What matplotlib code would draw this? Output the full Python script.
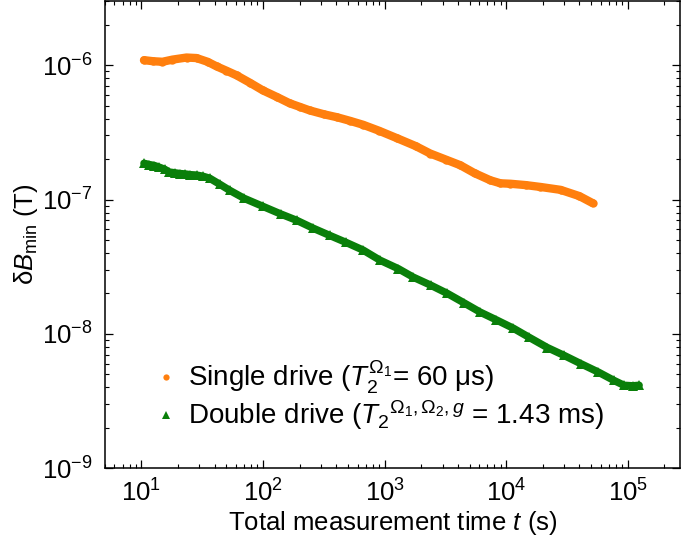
import matplotlib
matplotlib.use("Agg")
import matplotlib.pyplot as plt
from matplotlib.ticker import NullFormatter

plt.rcParams['font.family'] = ['Liberation Sans', 'DejaVu Sans']
plt.rcParams['mathtext.fontset'] = 'custom'
plt.rcParams['mathtext.rm'] = 'Liberation Sans'
plt.rcParams['mathtext.it'] = 'Liberation Sans:italic'
plt.rcParams['mathtext.bf'] = 'Liberation Sans:bold'

# Single drive (orange)
t_single = [10.5, 12.5, 14.9, 18.0, 23.5, 28.4, 35.0, 41.5, 50.0, 60.7, 78.0, 99.5,
            130, 166, 200, 243, 320, 405, 520, 666, 900, 1265, 1800, 2371,
            3200, 4195, 5500, 7413, 8970, 10850, 14500, 19150, 28000, 40000, 51400]
b_single = [1.09e-6, 1.07e-6, 1.06e-6, 1.10e-6, 1.14e-6, 1.13e-6, 1.06e-6, 9.8e-7, 9.1e-7,
            8.4e-7, 7.4e-7, 6.5e-7, 5.8e-7, 5.2e-7, 4.9e-7, 4.6e-7, 4.3e-7, 4.1e-7,
            3.85e-7, 3.6e-7, 3.25e-7, 2.86e-7, 2.5e-7, 2.2e-7, 1.98e-7, 1.80e-7,
            1.57e-7, 1.39e-7, 1.32e-7, 1.31e-7, 1.28e-7, 1.24e-7, 1.18e-7, 1.06e-7, 9.4e-8]

# Double drive (green)
t_double = [10.5, 11.6, 12.8, 14.0, 15.5, 17.0, 18.8, 20.7, 22.8, 25.2, 28.4, 32.0,
            36.4, 44.0, 53.2, 70.0, 99.5, 140, 189, 260, 354, 480, 666, 918,
            1300, 1722, 2400, 3275, 4500, 6120, 8300, 11460, 15500, 21800, 30000,
            41000, 57000, 76900, 93000, 110000, 124000]
b_double = [1.86e-7, 1.82e-7, 1.79e-7, 1.74e-7, 1.68e-7, 1.60e-7, 1.58e-7, 1.56e-7,
            1.55e-7, 1.53e-7, 1.52e-7, 1.49e-7, 1.44e-7, 1.30e-7, 1.17e-7, 1.02e-7,
            8.9e-8, 7.8e-8, 7.0e-8, 6.1e-8, 5.4e-8, 4.8e-8, 4.2e-8, 3.53e-8, 3.05e-8,
            2.64e-8, 2.3e-8, 2.0e-8, 1.7e-8, 1.45e-8, 1.27e-8, 1.10e-8, 9.4e-9, 7.9e-9,
            6.9e-9, 6.0e-9, 5.2e-9, 4.5e-9, 4.14e-9, 4.1e-9, 4.14e-9]

label_single = "Single drive ($T_2^{\\Omega_1}$= 60 μs)"
label_double = "Double drive (${T_2}^{\\Omega_1,\\Omega_2,g}$ = 1.43 ms)"

orange = '#ff7f0e'
green = '#0a7f0a'

fig = plt.figure(figsize=(6.85, 5.45), dpi=100)
ax = fig.add_axes([0.153, 0.141, 0.840, 0.857])

ax.plot(t_single, b_single, '-', color=orange, lw=6.0, solid_capstyle='round',
        solid_joinstyle='round', zorder=2)
ax.plot(t_single, b_single, 'o', color=orange, ms=6.0, mew=0, zorder=3, label=label_single)
ax.plot(t_double, b_double, '-', color=green, lw=5.4, solid_capstyle='round',
        solid_joinstyle='round', zorder=2)
ax.plot(t_double, b_double, '^', color=green, ms=6.8, mew=0, zorder=3, label=label_double)

ax.set_xscale('log')
ax.set_yscale('log')
ax.set_xlim(5.0, 2.7e5)
ax.set_ylim(1e-9, 3e-6)
ax.xaxis.set_minor_formatter(NullFormatter())
ax.yaxis.set_minor_formatter(NullFormatter())

ax.tick_params(which='both', direction='in', top=True, right=True, labelsize=18.5)
ax.tick_params(which='major', length=6, width=0.9)
ax.tick_params(axis='x', which='major', pad=8)
ax.tick_params(axis='y', which='major', pad=9)
ax.tick_params(which='minor', length=3, width=0.8)
for s in ax.spines.values():
    s.set_linewidth(1.1)

ax.set_xlabel("Total measurement time $t$ (s)", fontsize=18.5, labelpad=2)
ax.set_ylabel("δ$B_{\\mathrm{min}}$ (T)", fontsize=18.5, labelpad=1)

leg = ax.legend(loc='lower left', bbox_to_anchor=(0.06, 0.035), frameon=False,
                fontsize=20, handlelength=0.5, handletextpad=0.55, labelspacing=0.1,
                markerscale=0.75, borderpad=0.2)

fig.savefig("out.png", dpi=100)
